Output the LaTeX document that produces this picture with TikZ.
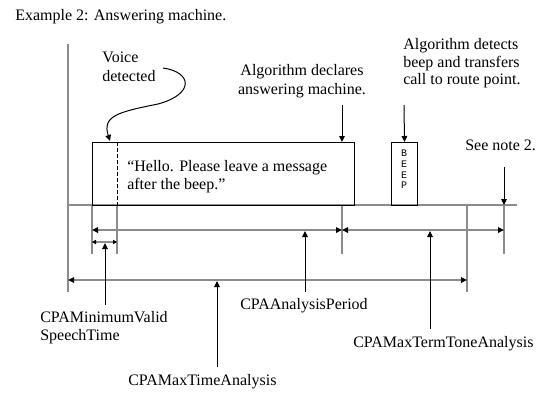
\documentclass[tikz,border=0pt]{standalone}
\usepackage{fontspec}
\setmainfont{Liberation Serif}
\newfontfamily\beepfont{Liberation Mono}
\usetikzlibrary{arrows.meta}
\begin{document}
\begin{tikzpicture}[x=0.75pt,y=-0.75pt,
  lbl/.style={inner sep=0pt, font=\fontsize{12}{14}\selectfont, align=left, anchor=west},
  grayline/.style={draw=black!45, line width=1pt},
  tip/.tip={Triangle[length=4.5pt,width=4.2pt,black]},
  smalltip/.tip={Triangle[length=3pt,width=3.2pt,black]},
  dimline/.style={grayline, tip-tip},
  smalldim/.style={grayline, smalltip-smalltip},
  ptr/.style={draw=black, line width=0.75pt, -tip},
  boxed/.style={draw=black, line width=0.75pt, inner sep=0pt, anchor=north west},
]
\useasboundingbox (0,0) rectangle (560,408);

% texts
\node[lbl] (title) at (15,17) {Example 2: Answering machine.};
\node[lbl] (voice) at (102,67) {Voice\\detected};
\node[lbl, align=center, anchor=center] (declares) at (302,81) {Algorithm declares\\answering machine.};
\node[lbl, font=\fontsize{12}{13.2}\selectfont] (detects) at (403,63.5) {Algorithm detects\\beep and transfers\\call to route point.};
\node[lbl] (note) at (465,145) {See note 2.};
\node[lbl] (hello) at (127,176.5) {``Hello. Please leave a message\\after the beep.''};
\node[lbl] (minvalid) at (40,327.5) {CPAMinimumValid\\SpeechTime};
\node[lbl] (maxtime) at (128,382) {CPAMaxTimeAnalysis};
\node[lbl] (period) at (240,306) {CPAAnalysisPeriod};
\node[lbl] (termtone) at (353,344) {CPAMaxTermToneAnalysis};

% time axis and guide lines
\coordinate (axtop) at (68,44);
\coordinate (axbot) at (68,292);
\coordinate (base0) at (68,205);
\coordinate (base1) at (517,205);
\draw[grayline] (axtop) -- (axbot);
\draw[grayline] (base0) -- (base1);

\coordinate (g1a) at (92,205);   \coordinate (g1b) at (92,254);
\coordinate (g2a) at (117,205);  \coordinate (g2b) at (117,254);
\coordinate (g3a) at (342,205);  \coordinate (g3b) at (342,254);
\coordinate (g4a) at (467,205);  \coordinate (g4b) at (467,292);
\coordinate (g5a) at (504,205);  \coordinate (g5b) at (504,254);
\draw[grayline] (g1a) -- (g1b);
\draw[grayline] (g2a) -- (g2b);
\draw[grayline] (g3a) -- (g3b);
\draw[grayline] (g4a) -- (g4b);
\draw[grayline] (g5a) -- (g5b);

% boxes
\node[boxed, minimum width=196.5pt, minimum height=47.25pt] (box) at (92,142) {};
\node[boxed, minimum width=19.5pt, minimum height=47.25pt] (beep) at (391,142) {};
\node[inner sep=0pt, align=center, font=\beepfont\fontsize{7.5}{8}\selectfont] (beeptxt) at (404,169.5) {B\\E\\E\\P};

% voice detected dashed line
\coordinate (vd1) at (117,142);
\coordinate (vd2) at (117,205);
\draw[draw=black, line width=0.6pt, dash pattern=on 3pt off 1.5pt] (vd1) -- (vd2);

% dimension arrows
\coordinate (d1a) at (92,230);  \coordinate (d1b) at (342,230);
\coordinate (d2b) at (504,230);
\coordinate (d3a) at (92,242);  \coordinate (d3b) at (117,242);
\coordinate (d4a) at (68,280);  \coordinate (d4b) at (467,280);
\draw[dimline] (d1a) -- (d1b);
\draw[dimline] (d1b) -- (d2b);
\draw[smalldim] (d3a) -- (d3b);
\draw[dimline] (d4a) -- (d4b);

% pointer arrows from labels
\coordinate (p1s) at (105,305);  \coordinate (p1e) at (105,243);
\coordinate (p2s) at (217,367);  \coordinate (p2e) at (217,281);
\coordinate (p3s) at (305,292);  \coordinate (p3e) at (305,231);
\coordinate (p4s) at (430,329);  \coordinate (p4e) at (430,231);
\draw[ptr] (p1s) -- (p1e);
\draw[ptr] (p2s) -- (p2e);
\draw[ptr] (p3s) -- (p3e);
\draw[ptr] (p4s) -- (p4e);

% top arrows
\coordinate (t1) at (342,105);
\coordinate (t2) at (404,105);
\coordinate (t3) at (504,167);
\draw[ptr] (t1) -- (t1 |- box.north);
\draw[ptr] (t2) -- (beep.north);
\draw[ptr] (t3) -- (g5a);

% curvy arrow
\coordinate (c0) at (163,68);
\coordinate (c1) at (110,141);
\draw[ptr] (c0) .. controls (192,72) and (195,94) .. (158,104)
  .. controls (118,112) and (102,116) .. (c1);
\end{tikzpicture}
\end{document}
